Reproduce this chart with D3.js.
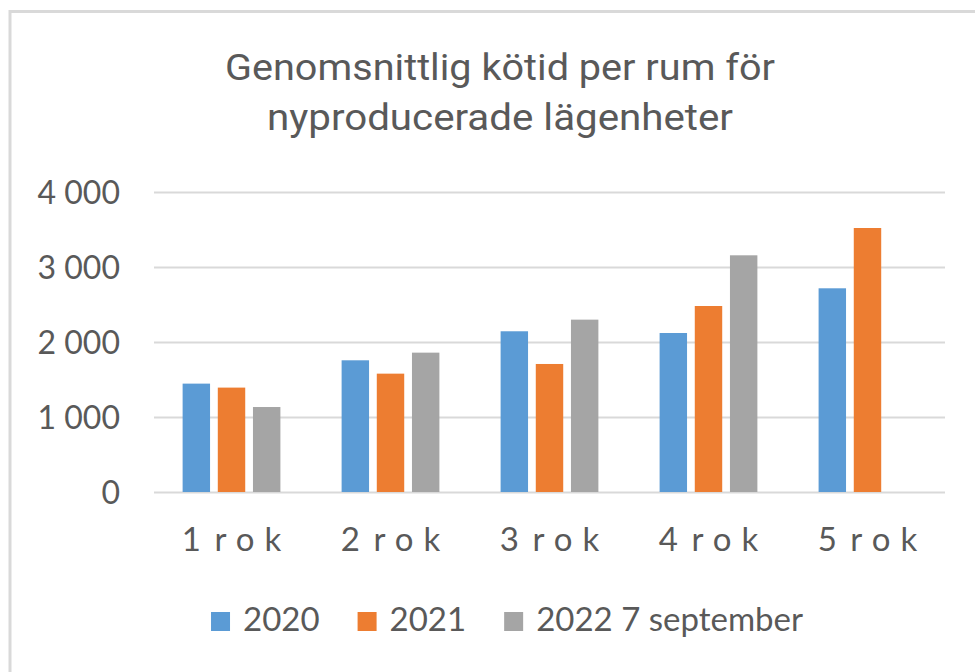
<!DOCTYPE html>
<html>
<head>
<meta charset="utf-8">
<script src="https://cdn.jsdelivr.net/npm/d3@7"></script>
<style>
  body { margin: 0; background: #fff; }
  text { fill: #595959; }
</style>
</head>
<body>
<svg id="chart"></svg>
<script>
// data
var categories = ["1 rok", "2 rok", "3 rok", "4 rok", "5 rok"];
var seriesNames = ["2020", "2021", "2022 7 september"];
var values2020 = [1445, 1756, 2143, 2120, 2716];
var values2021 = [1392, 1578, 1707, 2480, 3520];
var values2022 = [1133, 1858, 2298, 3156, null];
var yTicks = [0, 1000, 2000, 3000, 4000];
var titleLines = ["Genomsnittlig kötid per rum för", "nyproducerade lägenheter"];

var colors = ["#5b9bd5", "#ed7d31", "#a5a5a5"];
var allSeries = [values2020, values2021, values2022];

var W = 975, H = 672;
var plot = { left: 154, right: 945, top: 192, bottom: 492 };

var svg = d3.select("#chart").attr("width", W).attr("height", H);

// chart border (runs off the right and bottom edge)
svg.append("rect")
  .attr("x", 10).attr("y", 11.5)
  .attr("width", 1000).attr("height", 700)
  .attr("fill", "#fff")
  .attr("stroke", "#d9d9d9")
  .attr("stroke-width", 3);

// title, condensed look: fit each line to the width seen in the picture
var titleWidths = [550, 466];
svg.append("g").selectAll("text")
  .data(titleLines)
  .enter()
  .append("text")
  .attr("x", 500)
  .attr("y", function (d, i) { return 80 + i * 50; })
  .attr("text-anchor", "middle")
  .attr("textLength", function (d, i) { return titleWidths[i]; })
  .attr("lengthAdjust", "spacingAndGlyphs")
  .style("font-family", "Roboto")
  .style("font-size", "37px")
  .text(function (d) { return d; });

var y = d3.scaleLinear().domain([0, 4000]).range([plot.bottom, plot.top]);

var x0 = d3.scaleBand()
  .domain(categories)
  .range([plot.left, plot.right])
  .paddingInner(0.385)
  .paddingOuter(0.18);

var x1 = d3.scaleBand()
  .domain(d3.range(seriesNames.length))
  .range([0, x0.bandwidth()])
  .paddingInner(0.22)
  .paddingOuter(0);

var fmt = d3.formatLocale({ decimal: ",", thousands: " ", grouping: [3], currency: ["", ""] }).format(",d");

// gridlines
svg.append("g")
  .attr("transform", "translate(" + plot.left + ",0)")
  .call(d3.axisLeft(y).tickValues(yTicks).tickSize(-(plot.right - plot.left)).tickFormat(""))
  .call(function (g) { g.select(".domain").remove(); })
  .selectAll("line")
  .attr("stroke", "#d9d9d9")
  .attr("stroke-width", 2.2);

// y labels
svg.append("g")
  .attr("transform", "translate(120,0)")
  .call(d3.axisLeft(y).tickValues(yTicks).tickSize(0).tickPadding(0).tickFormat(fmt))
  .call(function (g) { g.select(".domain").remove(); })
  .selectAll("text")
  .attr("fill", "#595959")
  .attr("dy", "0.36em")
  .style("font-family", "Lato")
  .style("font-size", "32px");

// bars
var groups = svg.append("g").selectAll("g")
  .data(categories)
  .enter()
  .append("g")
  .attr("transform", function (d) { return "translate(" + x0(d) + ",0)"; });

groups.selectAll("rect")
  .data(function (d, ci) {
    return allSeries.map(function (s, si) { return { si: si, v: s[ci] }; })
      .filter(function (o) { return o.v != null; });
  })
  .enter()
  .append("rect")
  .attr("x", function (d) { return x1(d.si); })
  .attr("y", function (d) { return y(d.v); })
  .attr("width", x1.bandwidth())
  .attr("height", function (d) { return y(0) - y(d.v); })
  .attr("fill", function (d) { return colors[d.si]; });

// x labels
svg.append("g")
  .attr("transform", "translate(0," + plot.bottom + ")")
  .call(d3.axisBottom(x0).tickSize(0).tickPadding(0))
  .call(function (g) { g.select(".domain").remove(); })
  .selectAll("text")
  .attr("fill", "#595959")
  .attr("x", 5)
  .attr("y", 59)
  .attr("dy", 0)
  .style("font-family", "Lato")
  .style("font-size", "33px")
  .style("letter-spacing", "10px")
  .style("word-spacing", "-15px");

// legend
var legend = svg.append("g");
var items = legend.selectAll("g")
  .data(seriesNames)
  .enter()
  .append("g");
items.append("rect")
  .attr("width", 19).attr("height", 19)
  .attr("y", 612)
  .attr("fill", function (d, i) { return colors[i]; });
items.append("text")
  .attr("x", 32)
  .attr("y", 631)
  .style("font-family", "Lato")
  .style("font-size", "33px")
  .text(function (d) { return d; });

var pos = 0;
items.each(function () {
  var g = d3.select(this);
  g.attr("transform", "translate(" + pos + ",0)");
  pos += 32 + g.select("text").node().getComputedTextLength() + 38;
});
var total = pos - 38;
legend.attr("transform", "translate(" + (507 - total / 2) + ",0)");
</script>
</body>
</html>
